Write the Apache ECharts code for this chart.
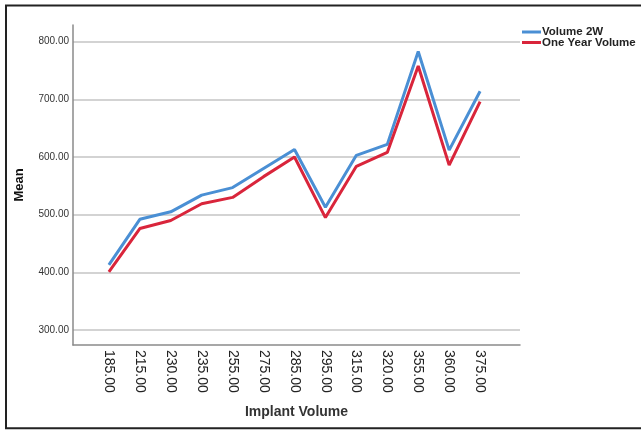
<!DOCTYPE html>
<html>
<head>
<meta charset="utf-8">
<script src="https://cdn.jsdelivr.net/npm/echarts@6/dist/echarts.min.js"></script>
<style>
html,body{margin:0;padding:0;background:#fff;}
#c{width:641px;height:430px;}
</style>
</head>
<body>
<div id="c"></div>
<script>
const categories = ["185.00","215.00","230.00","235.00","255.00","275.00","285.00","295.00","315.00","320.00","355.00","360.00","375.00"];
const volume2W = [413, 492, 505, 534, 547, 580, 613, 513, 603, 622, 783, 612, 714];
const oneYearVolume = [401, 476, 490, 519, 530, 566, 600, 495, 584, 608, 758, 586, 696];
const yTicks = [300, 400, 500, 600, 700, 800];
const seriesNames = ["Volume 2W", "One Year Volume"];
const colors = ["#4a8fd4", "#d9253b"];

const idx = categories.map((c, i) => i);
const toPairs = arr => arr.map((v, i) => [i, v]);
const font = "'Liberation Sans', Arial, sans-serif";

const chart = echarts.init(document.getElementById('c'), null, {renderer: 'canvas'});
chart.setOption({
  animation: false,
  backgroundColor: '#ffffff',
  grid: {left: 73, top: 25, width: 447, height: 320, containLabel: false},
  xAxis: {
    type: 'value',
    min: -1.16, max: 13.29,
    name: 'Implant Volume',
    nameLocation: 'middle',
    nameGap: 60,
    nameTextStyle: {fontFamily: font, fontWeight: 'bold', fontSize: 14, color: '#333'},
    axisLine: {show: true, onZero: false, lineStyle: {color: '#8a8a8a', width: 1.5}},
    axisTick: {show: false, customValues: idx},
    splitLine: {show: false},
    axisLabel: {
      customValues: idx,
      rotate: -90,
      margin: 5,
      fontFamily: font,
      fontSize: 14,
      color: '#222',
      formatter: v => categories[Math.round(v)]
    }
  },
  yAxis: {
    type: 'value',
    min: 274, max: 829,
    name: 'Mean',
    nameLocation: 'middle',
    nameGap: 47,
    nameTextStyle: {fontFamily: font, fontWeight: 'bold', fontSize: 13, color: '#111'},
    axisLine: {show: true, onZero: false, lineStyle: {color: '#8a8a8a', width: 1.5}},
    axisTick: {show: false, customValues: yTicks},
    splitLine: {show: true, lineStyle: {color: '#c4c4c4', width: 1.5}},
    axisLabel: {
      customValues: yTicks,
      margin: 4,
      fontFamily: font,
      fontSize: 10,
      color: '#333',
      formatter: v => v.toFixed(2)
    }
  },
  legend: [
    {
      data: [seriesNames[0]], left: 522, top: 26, padding: 0,
      icon: 'rect', itemWidth: 19, itemHeight: 3,
      textStyle: {fontFamily: font, fontWeight: 'bold', fontSize: 11.5, color: '#222', padding: [0,0,0,-4]}
    },
    {
      data: [seriesNames[1]], left: 522, top: 36.5, padding: 0,
      icon: 'rect', itemWidth: 19, itemHeight: 3,
      textStyle: {fontFamily: font, fontWeight: 'bold', fontSize: 11.5, color: '#222', padding: [0,0,0,-4]}
    }
  ],
  graphic: [{
    type: 'rect',
    shape: {x: 6, y: 5.5, width: 640, height: 422.8},
    style: {fill: 'none', stroke: '#222', lineWidth: 2},
    silent: true
  }],
  series: [
    {name: seriesNames[0], type: 'line', data: toPairs(volume2W), symbol: 'none',
     itemStyle: {color: colors[0]}, lineStyle: {color: colors[0], width: 3}},
    {name: seriesNames[1], type: 'line', data: toPairs(oneYearVolume), symbol: 'none',
     itemStyle: {color: colors[1]}, lineStyle: {color: colors[1], width: 3}}
  ]
});
</script>
</body>
</html>
